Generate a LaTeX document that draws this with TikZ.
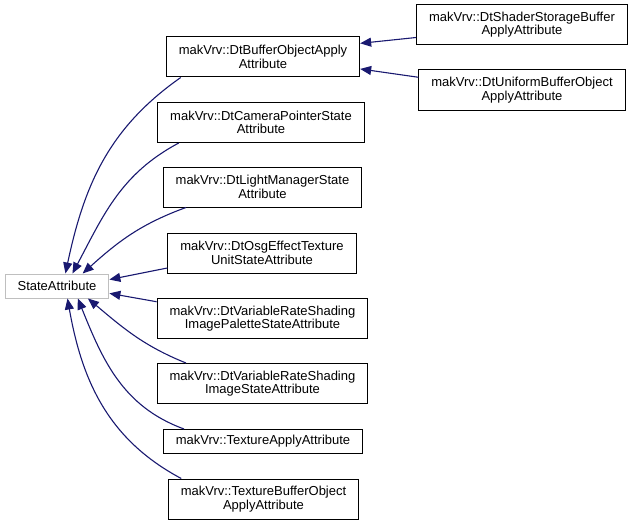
\documentclass[tikz,border=0pt]{standalone}
\usepackage{fontspec}
\setmainfont{Liberation Sans}
\usetikzlibrary{arrows.meta}
\definecolor{edgeblue}{HTML}{191970}
\definecolor{boxgray}{HTML}{BFBFBF}
\tikzset{
  cls/.style={draw=black, line width=1pt, fill=white, align=center, inner xsep=12.5pt, inner ysep=2pt,
    minimum height=40pt, font=\fontsize{13}{13.5}\selectfont},
  root/.style={cls, draw=boxgray, minimum height=24pt},
  inh/.style={edgeblue, line width=1.1pt, -{Triangle[length=11pt,width=9pt]}},
}
\begin{document}
\begin{tikzpicture}[x=1pt,y=-1pt]
\useasboundingbox (0,0) rectangle (632,527);
% base class
\node[root] (sa) at (57,286) {StateAttribute};
% first level
\node[cls] (buf) at (263,57) {makVrv::DtBufferObjectApply\\Attribute};
\node[cls] (cam) at (261,122.5) {makVrv::DtCameraPointerState\\Attribute};
\node[cls] (light) at (262.5,187) {makVrv::DtLightManagerState\\Attribute};
\node[cls] (osg) at (262,253) {makVrv::DtOsgEffectTexture\\UnitStateAttribute};
\node[cls] (vpal) at (262.5,318.5) {makVrv::DtVariableRateShading\\ImagePaletteStateAttribute};
\node[cls] (vimg) at (262.5,383.5) {makVrv::DtVariableRateShading\\ImageStateAttribute};
\node[cls,minimum height=24pt] (tapply) at (263,441.5) {makVrv::TextureApplyAttribute};
\node[cls] (tbuf) at (263.5,499) {makVrv::TextureBufferObject\\ApplyAttribute};
% second level
\node[cls] (shader) at (522,24.5) {makVrv::DtShaderStorageBuffer\\ApplyAttribute};
\node[cls] (uniform) at (522,90) {makVrv::DtUniformBufferObject\\ApplyAttribute};

% inheritance
\draw[inh] (shader.187) -- (buf.8);
\draw[inh] (uniform.173) -- (buf.353);
\draw[inh] (buf.194) to[out=215,in=78] (sa.56);
\draw[inh] (cam.194) to[out=208,in=62] (sa.39);
\draw[inh] (light.195) to[out=200,in=42] (sa.26);
\draw[inh] (osg.189) -- (sa.7);
\draw[inh] (vpal.171) -- (sa.352);
\draw[inh] (vimg.165) to[out=158,in=-40] (sa.338);
\draw[inh] (tapply.171) to[out=160,in=-68] (sa.329);
\draw[inh] (tbuf.166) to[out=152,in=-80] (sa.310);
\end{tikzpicture}
\end{document}
